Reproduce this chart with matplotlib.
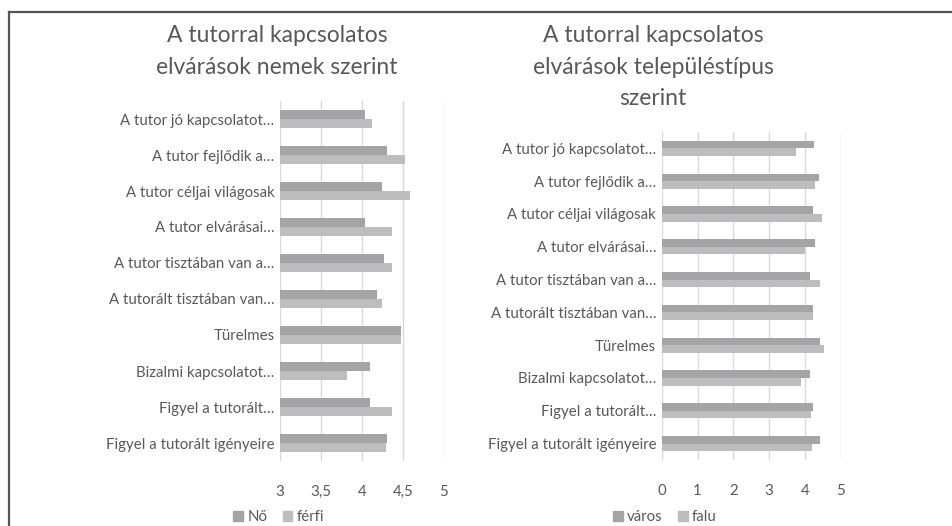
import matplotlib
matplotlib.use("Agg")
import matplotlib.pyplot as plt
from matplotlib.lines import Line2D
from matplotlib.patches import Patch
import numpy as np

plt.rcParams['font.family'] = ['Lato', 'DejaVu Sans']

# categories, top to bottom
categories = [
    "A tutor jó kapcsolatot…",
    "A tutor fejlődik a…",
    "A tutor céljai világosak",
    "A tutor elvárásai…",
    "A tutor tisztában van a…",
    "A tutorált tisztában van…",
    "Türelmes",
    "Bizalmi kapcsolatot…",
    "Figyel a tutorált…",
    "Figyel a tutorált igényeire",
]

# by gender
no_vals = [4.04, 4.31, 4.24, 4.04, 4.27, 4.18, 4.48, 4.10, 4.10, 4.31]
ferfi_vals = [4.12, 4.53, 4.59, 4.36, 4.36, 4.24, 4.47, 3.82, 4.36, 4.29]

# by settlement type
varos_vals = [4.25, 4.40, 4.24, 4.27, 4.13, 4.24, 4.42, 4.13, 4.24, 4.42]
falu_vals = [3.75, 4.27, 4.49, 4.00, 4.42, 4.22, 4.53, 3.90, 4.17, 4.19]

left_ticks = [3, 3.5, 4, 4.5, 5]
left_ticklabels = ["3", "3,5", "4", "4,5", "5"]
right_ticks = [0, 1, 2, 3, 4, 5]

dark = "#a4a4a6"
light = "#bdbdc0"
text_col = "#595959"
grid_col = "#d9d9d9"

fig = plt.figure(figsize=(9.53, 5.26), dpi=100)

W, H = 953, 526


def make_axes(x0, x1, y0, y1):
    return fig.add_axes([x0 / W, 1 - y1 / H, (x1 - x0) / W, (y1 - y0) / H])


def draw(ax, s1, s2, xlim, ticks, ticklabels, h):
    y = np.arange(len(categories))
    ax.barh(y - h / 2, s1, height=h, color=dark, zorder=3)
    ax.barh(y + h / 2, s2, height=h, color=light, zorder=3)
    ax.set_xlim(*xlim)
    ax.set_ylim(len(categories) - 0.5, -0.5)
    ax.set_yticks(y)
    ax.set_yticklabels(categories, fontsize=10.8, color=text_col)
    ax.set_xticks(ticks)
    ax.set_xticklabels(ticklabels, fontsize=10.8, color=text_col)
    ax.tick_params(axis='both', length=0)
    ax.tick_params(axis='x', pad=17)
    ax.tick_params(axis='y', pad=4)
    ax.grid(axis='x', color=grid_col, linewidth=1, zorder=0)
    for s in ax.spines.values():
        s.set_visible(False)


ax1 = make_axes(280, 444, 101, 461)
draw(ax1, no_vals, ferfi_vals, (3, 5), left_ticks, left_ticklabels, 0.24)

ax2 = make_axes(661.7, 840.7, 132, 460)
draw(ax2, varos_vals, falu_vals, (0, 5), right_ticks, [str(t) for t in right_ticks], 0.23)

fig.text(277 / W, 1 - 51.5 / H, "A tutorral kapcsolatos\nelvárások nemek szerint",
         ha='center', va='center', fontsize=16.5, color=text_col, linespacing=1.6)
fig.text(653 / W, 1 - 67 / H, "A tutorral kapcsolatos\nelvárások településtípus\nszerint",
         ha='center', va='center', fontsize=16.5, color=text_col, linespacing=1.6)

leg_kw = dict(loc='center', ncol=2, frameon=False, fontsize=10.8, handlelength=0.65,
              handleheight=0.65, handletextpad=0.3, columnspacing=1.0, labelcolor=text_col)
fig.legend([Patch(color=dark), Patch(color=light)], ["Nő", "férfi"],
           bbox_to_anchor=(279 / W, 1 - 517 / H), **leg_kw)
fig.legend([Patch(color=dark), Patch(color=light)], ["város", "falu"],
           bbox_to_anchor=(665 / W, 1 - 517 / H), **leg_kw)

# outer border lines (top and left)
fig.add_artist(Line2D([9.5 / W, 1], [1 - 11.5 / H, 1 - 11.5 / H], color="#555555", linewidth=1.6))
fig.add_artist(Line2D([9.5 / W, 9.5 / W], [0, 1 - 11.5 / H], color="#555555", linewidth=1.6))

fig.savefig("out.png", dpi=100, facecolor="white")
